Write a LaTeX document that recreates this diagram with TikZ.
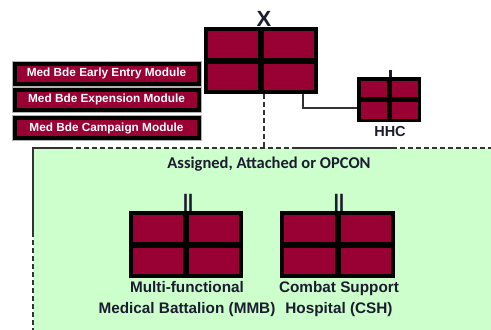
\documentclass[tikz,border=0pt]{standalone}
\usepackage{fontspec}
\setmainfont{Liberation Sans}
\newfontfamily\calib{Carlito}
\usetikzlibrary{calc}
\definecolor{maroonfill}{HTML}{990033}
\definecolor{greenfill}{HTML}{CCFFCC}
\definecolor{inkc}{HTML}{1C1C30}
\definecolor{linec}{HTML}{333333}
\begin{document}
\begin{tikzpicture}[x=1pt,y=-1pt,
  unitbox/.style 2 args={fill=black, inner sep=0pt, outer sep=0pt,
    path picture={
      \fill[maroonfill] ([xshift=#1,yshift=-#1]path picture bounding box.north west) rectangle ([xshift=-#2,yshift=#2]path picture bounding box.center);
      \fill[maroonfill] ([xshift=-#1,yshift=-#1]path picture bounding box.north east) rectangle ([xshift=#2,yshift=#2]path picture bounding box.center);
      \fill[maroonfill] ([xshift=#1,yshift=#1]path picture bounding box.south west) rectangle ([xshift=-#2,yshift=-#2]path picture bounding box.center);
      \fill[maroonfill] ([xshift=-#1,yshift=#1]path picture bounding box.south east) rectangle ([xshift=#2,yshift=-#2]path picture bounding box.center);
    }},
  modbox/.style={fill=black, draw=gray!60, line width=0.6pt, minimum width=189pt, minimum height=25pt,
    inner sep=0pt, outer sep=0pt, text=white, font=\bfseries\fontsize{11.8}{12}\selectfont,
    path picture={\fill[maroonfill] ([xshift=4.5pt,yshift=-4.5pt]path picture bounding box.north west) rectangle ([xshift=-4.5pt,yshift=4.5pt]path picture bounding box.south east);}},
  lbl/.style={text=inkc, font=\bfseries\fontsize{15.3}{21}\selectfont, align=center, inner sep=0pt},
  echelon/.style={text=inkc, font=\bfseries\fontsize{25}{25}\selectfont, inner sep=0pt, xscale=0.72},
  conn/.style={draw=linec, line width=1.6pt},
  dashc/.style={draw=linec, line width=1.6pt, dash pattern=on 5pt off 3pt}]
\useasboundingbox (0,0) rectangle (491,330);

% green region
\node[fill=greenfill, minimum width=458pt, minimum height=182pt, inner sep=0pt, outer sep=0pt] (grp) at (262,239) {};
\draw[conn] ([yshift=-84pt]grp.north west) -- (grp.north west) -- ([xshift=35pt]grp.north west);
\draw[dashc] ([xshift=35pt]grp.north west) -- ([xshift=264pt]grp.north west);
\draw[conn] ([xshift=264pt]grp.north west) -- ([xshift=359pt]grp.north west);
\draw[dashc] ([xshift=359pt]grp.north west) -- (grp.north east);
\draw[dashc] ([yshift=-84pt]grp.north west) -- (grp.south west);

% main unit
\node[unitbox={4pt}{3pt}, minimum width=114pt, minimum height=67pt] (main) at (261,60.5) {};
\node[text=inkc, font=\bfseries\fontsize{22}{22}\selectfont, inner sep=0pt, anchor=base] (xlbl) at (264,26) {X};

% HHC
\node[unitbox={3.5pt}{2.5pt}, minimum width=64pt, minimum height=45pt] (hhc) at (389,99.5) {};
\coordinate (hhctick) at (390,70);
\draw[draw=inkc, line width=3pt] (hhctick) -- (hhctick |- hhc.north);
\node[text=inkc, font=\bfseries\fontsize{14.5}{15}\selectfont, inner sep=0pt] (hhclbl) at (390,132) {HHC};
\draw[conn] ([xshift=42pt]main.south) |- ([yshift=-8.5pt]hhc.west);

% dashed drop to region
\draw[dashc] ([xshift=3pt]main.south) -- ([xshift=3pt]main.south |- grp.north);

% modules
\node[modbox] (m1) at (106.5,73.5) {Med Bde Early Entry Module};
\node[modbox] (m2) at (106.5,99.5) {Med Bde Expension Module};
\node[modbox] (m3) at (106.5,128) {Med Bde Campaign Module};

% region title
\node[text=inkc, font=\calib\bfseries\fontsize{16.5}{18}\selectfont, inner sep=0pt] (ttl) at (269,164) {Assigned, Attached or OPCON};

% MMB
\node[unitbox={4pt}{3pt}, minimum width=114pt, minimum height=67pt] (mmb) at (186,244.5) {};
\node[echelon, anchor=south] (mmbech) at (188,212) {II};
\node[lbl] (mmblbl) at (187,299) {Multi-functional\\Medical Battalion (MMB)};

% CSH
\node[unitbox={4pt}{3pt}, minimum width=115pt, minimum height=67pt] (csh) at (337.5,244.5) {};
\node[echelon, anchor=south] (cshech) at (339,212) {II};
\node[lbl] (cshlbl) at (339,299) {Combat Support\\Hospital (CSH)};
\end{tikzpicture}
\end{document}
